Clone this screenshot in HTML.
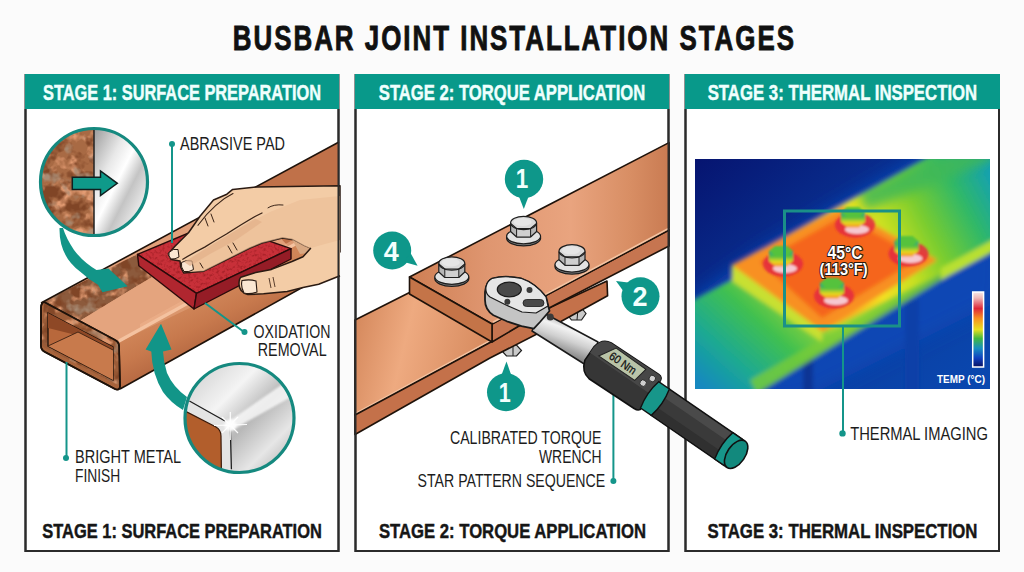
<!DOCTYPE html>
<html><head><meta charset="utf-8"><style>
html,body{margin:0;padding:0;background:#fbfbfb;}
svg{display:block;}
text{font-family:"Liberation Sans",sans-serif;}
.hd{font-weight:bold;font-size:22.3px;fill:#effffd;stroke:#effffd;stroke-width:0.45px;}
.ft{font-weight:bold;font-size:21px;fill:#161616;stroke:#161616;stroke-width:0.45px;}
.lb{font-size:17.5px;fill:#1c1c1c;}
</style></head><body>
<svg width="1024" height="572" viewBox="0 0 1024 572">
<defs>
<filter id="rust" x="0" y="0" width="100%" height="100%" color-interpolation-filters="sRGB">
 <feTurbulence type="fractalNoise" baseFrequency="0.07" numOctaves="3" seed="7" result="n"/>
 <feColorMatrix in="n" type="matrix" values="0 0 0 0 0.50  0 0 0 0 0.27  0 0 0 0 0.15  5 0 0 0 -2.4" result="dark"/>
 <feColorMatrix in="n" type="matrix" values="0 0 0 0 0.66  0 0 0 0 0.55  0 0 0 0 0.46  0 4 0 0 -2.3" result="gray"/>
 <feColorMatrix in="n" type="matrix" values="0 0 0 0 0.89  0 0 0 0 0.61  0 0 0 0 0.45  0 0 -5 0 2.45" result="light"/>
 <feMerge result="m"><feMergeNode in="SourceGraphic"/><feMergeNode in="light"/><feMergeNode in="dark"/><feMergeNode in="gray"/></feMerge>
 <feComposite in="m" in2="SourceGraphic" operator="in"/>
</filter>
<linearGradient id="silv1" x1="0" y1="0" x2="1" y2="1">
 <stop offset="0" stop-color="#9a9a9a"/><stop offset="0.3" stop-color="#e8e8e8"/><stop offset="0.45" stop-color="#ffffff"/><stop offset="0.6" stop-color="#c4c4c4"/><stop offset="0.8" stop-color="#eeeeee"/><stop offset="1" stop-color="#a8a8a8"/>
</linearGradient>
<linearGradient id="silv2" x1="0" y1="0" x2="1" y2="1">
 <stop offset="0" stop-color="#c8c8c8"/><stop offset="0.35" stop-color="#f4f4f4"/><stop offset="0.55" stop-color="#b8b8b8"/><stop offset="0.75" stop-color="#e6e6e6"/><stop offset="1" stop-color="#9c9c9c"/>
</linearGradient>
<linearGradient id="cuTop1" gradientUnits="userSpaceOnUse" x1="80" y1="330" x2="100" y2="290">
 <stop offset="0" stop-color="#e8a075"/><stop offset="1" stop-color="#c87a4c"/>
</linearGradient>
<linearGradient id="cuSide1" gradientUnits="userSpaceOnUse" x1="200" y1="300" x2="220" y2="342">
 <stop offset="0" stop-color="#d08558"/><stop offset="0.5" stop-color="#c7794d"/><stop offset="1" stop-color="#b66942"/>
</linearGradient>
<linearGradient id="cuTop2" gradientUnits="userSpaceOnUse" x1="410" y1="0" x2="669" y2="0">
 <stop offset="0" stop-color="#cf7f54"/><stop offset="0.3" stop-color="#df9670"/><stop offset="0.62" stop-color="#e9a47f"/><stop offset="0.85" stop-color="#d88e64"/><stop offset="1" stop-color="#c97b52"/>
</linearGradient>
<linearGradient id="cuTopL" gradientUnits="userSpaceOnUse" x1="355" y1="330" x2="480" y2="360">
 <stop offset="0" stop-color="#d68a5e"/><stop offset="0.4" stop-color="#eeaa80"/><stop offset="1" stop-color="#d88c60"/>
</linearGradient>
<linearGradient id="shaft" gradientUnits="userSpaceOnUse" x1="572" y1="320" x2="560" y2="352">
 <stop offset="0" stop-color="#9a9a9a"/><stop offset="0.3" stop-color="#f2f2f2"/><stop offset="0.6" stop-color="#d0d0d0"/><stop offset="1" stop-color="#8a8a8a"/>
</linearGradient>
<linearGradient id="thbg" x1="0" y1="0" x2="1" y2="1">
 <stop offset="0" stop-color="#061470"/><stop offset="0.5" stop-color="#0a3a9c"/><stop offset="1" stop-color="#0a48b0"/>
</linearGradient>
<linearGradient id="thUp" gradientUnits="userSpaceOnUse" x1="990" y1="170" x2="820" y2="260">
 <stop offset="0" stop-color="#14a0b4"/><stop offset="0.2" stop-color="#30b868"/><stop offset="0.42" stop-color="#78cc30"/><stop offset="0.62" stop-color="#c8e020"/><stop offset="0.8" stop-color="#f4e020"/><stop offset="1" stop-color="#f8b020"/>
</linearGradient>
<linearGradient id="thLow" gradientUnits="userSpaceOnUse" x1="700" y1="385" x2="790" y2="285">
 <stop offset="0" stop-color="#1288c0"/><stop offset="0.3" stop-color="#1ca894"/><stop offset="0.65" stop-color="#40c050"/><stop offset="1" stop-color="#a8d830"/>
</linearGradient>
<linearGradient id="cbar" x1="0" y1="0" x2="0" y2="1">
 <stop offset="0" stop-color="#f8e8e8"/><stop offset="0.08" stop-color="#f0b8b8"/><stop offset="0.22" stop-color="#e02838"/><stop offset="0.35" stop-color="#f89020"/><stop offset="0.5" stop-color="#e8e020"/><stop offset="0.62" stop-color="#40b840"/><stop offset="0.75" stop-color="#1890c0"/><stop offset="0.88" stop-color="#1040c0"/><stop offset="1" stop-color="#081060"/>
</linearGradient>
<filter id="blur2" x="-10%" y="-10%" width="120%" height="120%"><feGaussianBlur stdDeviation="2.2"/></filter>
<filter id="speck" x="0" y="0" width="100%" height="100%" color-interpolation-filters="sRGB">
 <feTurbulence type="fractalNoise" baseFrequency="0.35" numOctaves="2" seed="11" result="n"/>
 <feColorMatrix in="n" type="matrix" values="0 0 0 0 0.55  0 0 0 0 0.08  0 0 0 0 0.10  1.6 0 0 0 -0.75" result="d"/>
 <feMerge result="m"><feMergeNode in="SourceGraphic"/><feMergeNode in="d"/></feMerge>
 <feComposite in="m" in2="SourceGraphic" operator="in"/>
</filter>
<filter id="blur6" x="-20%" y="-20%" width="140%" height="140%"><feGaussianBlur stdDeviation="9"/></filter>
<filter id="blur13" x="-20%" y="-20%" width="140%" height="140%"><feGaussianBlur stdDeviation="1.3"/></filter>
<filter id="blur1"><feGaussianBlur stdDeviation="1"/></filter>
<clipPath id="upbar"><path d="M732,266 L930,156 L996,156 L996,244 L941,273 L822,332 Z"/></clipPath>
<filter id="blur4" x="-30%" y="-30%" width="160%" height="160%"><feGaussianBlur stdDeviation="5"/></filter>
<clipPath id="thc"><rect x="695" y="159" width="295" height="230"/></clipPath>
<g id="bolt">
 <ellipse cx="0" cy="14.6" rx="17" ry="7.8" fill="#8c8c8c" stroke="#1e1e1e" stroke-width="1.3"/>
 <ellipse cx="0" cy="12.8" rx="17" ry="7.5" fill="#e2e2e2" stroke="#1e1e1e" stroke-width="1.2"/>
 <path d="M-13,0 L-13,8 L-7,13.5 L7,13.5 L13,8 L13,0 Z" fill="#b6b6b6" stroke="#1e1e1e" stroke-width="1.2" stroke-linejoin="round"/>
 <path d="M-7,5 L7,5 L7,13.5 L-7,13.5 Z" fill="#cfcfcf" stroke="#1e1e1e" stroke-width="1"/>
 <ellipse cx="0" cy="-0.5" rx="13" ry="6.6" fill="#dadada" stroke="#1e1e1e" stroke-width="1.2"/>
 <path d="M-13,0 L-7,5 L7,5 L13,0" fill="none" stroke="#1e1e1e" stroke-width="1.1"/>
 <ellipse cx="-1" cy="-1.5" rx="9" ry="4" fill="#e6e6e6"/>
</g>
<linearGradient id="tbside" x1="0" y1="0" x2="0" y2="1">
 <stop offset="0" stop-color="#1c98a0"/><stop offset="0.35" stop-color="#58c040"/><stop offset="0.7" stop-color="#e8d820"/><stop offset="1" stop-color="#f89028"/>
</linearGradient>
<g id="tb">
 <ellipse cx="2" cy="10" rx="20" ry="12.5" fill="#e42a40" opacity="0.85"/>
 <ellipse cx="4" cy="14.5" rx="12" ry="4.5" fill="#f6c8d0"/>
 <path d="M-12,-3 L-12,7 L-6,12.5 L6,12.5 L12,7 L12,-3 Z" fill="url(#tbside)"/>
 <path d="M-12,-3 L-6,-8 L6,-8 L12,-3 L6,2 L-6,2 Z" fill="#54c23e"/>
</g>
<g id="bub"><circle r="19.5" fill="#12968a"/></g>
<clipPath id="c1"><circle cx="94" cy="182" r="53"/></clipPath>
<clipPath id="c2"><circle cx="239" cy="418" r="54"/></clipPath>
</defs>
<rect width="1024" height="572" fill="#fbfbfb"/>
<text transform="translate(232.8,50.3) scale(0.72,1)" x="0" y="0" font-size="36" font-weight="bold" fill="#111" stroke="#111" stroke-width="0.9" letter-spacing="2.76">BUSBAR JOINT INSTALLATION STAGES</text>

<!-- panels -->
<g fill="#fff" stroke="#2b2b2b" stroke-width="2">
<rect x="25.5" y="75" width="313" height="476"/>
<rect x="355.5" y="75" width="313" height="476"/>
<rect x="685.5" y="75" width="313.5" height="476"/>
</g>
<g fill="#08998a">
<rect x="25" y="74" width="314" height="35"/>
<rect x="355" y="74" width="314" height="35"/>
<rect x="685" y="74" width="315" height="35"/>
</g>
<text class="hd" x="43" y="99.5" textLength="278" lengthAdjust="spacingAndGlyphs">STAGE 1: SURFACE PREPARATION</text>
<text class="hd" x="378.8" y="99.5" textLength="266.5" lengthAdjust="spacingAndGlyphs">STAGE 2: TORQUE APPLICATION</text>
<text class="hd" x="707.7" y="99.5" textLength="269.5" lengthAdjust="spacingAndGlyphs">STAGE 3: THERMAL INSPECTION</text>

<text class="ft" x="42.3" y="538" textLength="279.5" lengthAdjust="spacingAndGlyphs">STAGE 1: SURFACE PREPARATION</text>
<text class="ft" x="379" y="538" textLength="267" lengthAdjust="spacingAndGlyphs">STAGE 2: TORQUE APPLICATION</text>
<text class="ft" x="707.5" y="538" textLength="270" lengthAdjust="spacingAndGlyphs">STAGE 3: THERMAL INSPECTION</text>

<!-- PANEL1 -->
<g id="p1">
<!-- bar side face -->
<path d="M119,342 L339,221 L339,267 L120,389 Z" fill="url(#cuSide1)"/>
<!-- bar top face -->
<path d="M41,303 L339,142 L339,221 L119,342 Z" fill="#e2a07a"/>
<path d="M240,196 L339,142 L339,221 L290,248 Z" fill="#c07149"/>

<!-- rust on top face -->
<path d="M41,303 L137.5,254 L139,266 L152,277 L78,322 Z" fill="#8c5a3c" filter="url(#rust)"/>
<path d="M78,322 L152,277 L196,305 L119,342 Z" fill="#e6a882" opacity="0.5"/>
<path d="M140,330 L300,242 L300,236 L140,324 Z" fill="#eeb28c" opacity="0.6"/>
<!-- front face -->
<path d="M44,302 Q41,303 41,308 L41,346 Q41,350 45,352 L115,389 Q120,391 120,386 L119,346 Q119,342 115,340 Z" fill="#a8643c" stroke="#1e120a" stroke-width="1.6"/>
<path d="M44,302 L115,340 L119,346 L120,386 L41,346Z" fill="#9a5c38" filter="url(#rust)" opacity="0.9"/>
<path d="M48,313 L113,347 L113,380 L48,346 Z" fill="#b8683c" stroke="#1e120a" stroke-width="1.3"/>
<path d="M48,313 L113,347 L113,352 L80,336 L48,328 Z" fill="#8e4826"/>
<path d="M48,346 L78,332 L113,350 L113,380 Z" fill="#c87a4c"/>
<path d="M48,346 L78,332 L113,350" fill="none" stroke="#3a2012" stroke-width="0.9"/>
<path d="M44,302 Q41,303 41,308 L41,346 Q41,350 45,352 L115,389 Q120,391 120,386 L119,346 Q119,342 115,340 Z" fill="none" stroke="#1e120a" stroke-width="1.8"/>
<path d="M119,341 L339,220" stroke="#f4c2a0" stroke-width="3.2" fill="none"/>
<path d="M41,303 L339,142 M120,389 L339,267" stroke="#1e120a" stroke-width="1.6" fill="none"/>

<!-- red pad -->
<path d="M137.5,254.4 L215,222 L291,248.7 L196.5,293.3 Z" fill="#c83039" filter="url(#speck)"/>
<path d="M137.5,254.4 L215,222 L291,248.7 L196.5,293.3 Z" fill="none" stroke="#2a0a0a" stroke-width="1.4" stroke-linejoin="round"/>
<path d="M137.5,254.4 L196.5,293.3 L194,309 L138.8,265.7 Z" fill="#b0262f" stroke="#2a0a0a" stroke-width="1.4" stroke-linejoin="round"/>
<path d="M196.5,293.3 L291,248.7 L291,259 L194,309 Z" fill="#951c26" stroke="#2a0a0a" stroke-width="1.4" stroke-linejoin="round"/>
<!-- hand: fingers+palm -->
<path d="M340,185.7 L257,187 L232.7,189.4 L226.9,194.2 L213.5,200 L200,216.3 L188.5,232.7 L175,246.2 L168.3,253.8 L171.2,259.6 L180,261 L180.8,267.3 L183.7,273 L203.8,271.2 L226.9,259.6 L250,248 L262,243 L282.5,237.9 L292,239.4 L304,246 L318,252 L340,252 Z" fill="#f3cca6" stroke="#2a1a12" stroke-width="1.5" stroke-linejoin="round"/>
<path d="M186,262 L213,244 L240,228 L270,212 L300,200 L340,196 L340,252 L318,252 L304,246 L292,239.4 L282.5,237.9 L262,243 L250,248 L226.9,259.6 L203.8,271.2 L190,272 Z" fill="#ebbd96" opacity="0.6"/>
<path d="M292,239.4 L304,246 L318,252 L300,254 Z" fill="#d9a882"/>
<!-- thumb -->
<path d="M240.8,277.2 L255.7,272.5 L271.5,269.4 L292,261.5 L303,256.8 L310.9,248 L325,244 L340,240 L340,275.7 L318.7,284.3 L303,287.5 L287.2,291.4 L263.6,293.8 L247.9,294.5 Q239,292 239,284 Q239,279 240.8,277.2 Z" fill="#f3cca6"/>
<path d="M310.9,248 L303,256.8 L292,261.5 L271.5,269.4 L255.7,272.5 L240.8,277.2 Q239,279 239,284 Q239,292 247.9,294.5 L263.6,293.8 L287.2,291.4 L303,287.5 L318.7,284.3 L340,275.7" fill="none" stroke="#2a1a12" stroke-width="1.5" stroke-linejoin="round"/>
<path d="M242,280.5 Q250,279 256,281 L257,292 Q250,294.5 244,293 Q240.5,287 242,280.5 Z" fill="#fbe7d2" stroke="#2a1a12" stroke-width="1.1"/>
<path d="M269,278 L271,288 M273,277 L275,287" stroke="#4a3020" stroke-width="0.9"/>
<!-- nails -->
<path d="M169,252.5 Q173,248 178,249.5 L179,257 Q175,259.5 171,259 Q168,256 169,252.5 Z" fill="#fbe7d2" stroke="#2a1a12" stroke-width="1"/>
<path d="M181.5,262.5 Q186,259.5 192,261 L193.5,269.5 Q189,272.5 184,271.5 Q180.5,267 181.5,262.5 Z" fill="#fbe7d2" stroke="#2a1a12" stroke-width="1"/>
<!-- finger lines -->
<path d="M184,262 L204.7,249 L226.5,236 L255,218.5 L262,222 L236,240 L210,254 L190,266 Z" fill="#e2b08a" opacity="0.7"/>
<path d="M182.8,259.2 Q195,252 204.7,247.1 Q216,240 226.5,234 Q242,224 255,216.5 L262,213" fill="none" stroke="#3a2418" stroke-width="1.3" stroke-linecap="round"/>
<path d="M198,225.3 Q206,214 215.6,205.6 Q224,198 233,193.6" fill="none" stroke="#3a2418" stroke-width="1.1" stroke-linecap="round"/>
<path d="M268,207.8 Q274,204 283,205 M205,218 L208,226 M211,214 L214,222 M228,246 L232,253 M233,243 L237,250 M200,263 L203,268" fill="none" stroke="#3a2418" stroke-width="1" stroke-linecap="round"/>
<!-- top inset circle -->
<g clip-path="url(#c1)">
 <rect x="40" y="128" width="54" height="110" fill="#a86a44" filter="url(#rust)"/>
 <rect x="94" y="128" width="56" height="110" fill="url(#silv1)"/>
</g>
<line x1="94" y1="129" x2="94" y2="235" stroke="#222" stroke-width="1.5"/>
<circle cx="94" cy="182" r="53.5" fill="none" stroke="#15897f" stroke-width="3.2"/>
<path d="M72.3,177.3 L100.5,177.3 L100.5,171 L117.3,183.3 L100.5,195.6 L100.5,189.5 L72.3,189.5 Z" fill="#0f9a8a" stroke="#102020" stroke-width="1.5" stroke-linejoin="miter"/>
<!-- upper teal curved arrow -->
<path d="M59.5,228 Q59,256 80,271.5 Q88,279 98,284.8 L102.4,292.3 L127.7,286.3 L108.4,268.5 L96.5,270 Q83,262 74,250 Q66,238 63,228 Z" fill="#129588"/>
<!-- lower inset circle -->
<g clip-path="url(#c2)">
 <rect x="183" y="362" width="114" height="114" fill="url(#silv2)"/>
 <path d="M225,424 L300,372 L300,392 L232,430 Z" fill="#fafafa" opacity="0.8" filter="url(#blur1)"/>
 <path d="M183,398 L189.4,401 L225,421 L230.3,427 L231.4,480 L183,480 Z" fill="#e4e4e4"/>
 <path d="M183,410 L216,427 Q221,430 221,436 L221.5,480 L183,480 Z" fill="#b25e2c" stroke="#3a1a0a" stroke-width="1.2"/>
</g>
<path d="M189.4,401 L225,421 M230.3,427.2 L231.4,469.2" stroke="#1e1e1e" stroke-width="1.3" fill="none"/>
<circle cx="239.5" cy="418" r="54.5" fill="none" stroke="#15897f" stroke-width="3.2"/>
<circle cx="230.3" cy="425" r="6" fill="#fff" opacity="0.85" filter="url(#blur1)"/>
<path d="M214,425.5 L247,424.5 M230.3,412 L230.3,440 M222,417 L238,433 M238,417 L222,433" stroke="#fff" stroke-width="1.2" opacity="0.95"/>
<!-- lower teal arrow -->
<path d="M187,397 Q173,387 167,373 Q163.5,362 163,351.5 L171.5,349.6 L161,323.7 L145.6,349.6 L151.3,351.5 Q152,374 163,392 Q171,403 183,410 Z" fill="#129588"/>
<!-- leaders -->
<g stroke="#14958a" stroke-width="2" fill="#14958a">
<line x1="172" y1="144" x2="172" y2="243"/><circle cx="172" cy="144" r="3" stroke="none"/>
<line x1="244" y1="332" x2="205" y2="303"/><circle cx="244.5" cy="332" r="3" stroke="none"/>
<line x1="66.5" y1="458" x2="66.5" y2="362"/><circle cx="66" cy="458" r="3" stroke="none"/>
</g>
</g>
<!-- PANEL2 -->
<g id="p2">
<!-- nuts under -->
<path d="M501.5,350.5 L506.5,345 L516.5,345 L521.5,350.5 L516.5,356 L506.5,356 Z" fill="#cacaca" stroke="#1e1e1e" stroke-width="1.2"/>
<path d="M513,345 L513,356" stroke="#1e1e1e" stroke-width="1"/>
<path d="M567.5,315 L572,309 L582,308.5 L586,313.5 L581.5,320 L571.5,320 Z" fill="#cacaca" stroke="#1e1e1e" stroke-width="1.2"/>
<path d="M578,309 L577,320" stroke="#1e1e1e" stroke-width="1"/>
<!-- lower bar -->
<path d="M355,320 L470,262 L560,305 L491,342 L355,415 Z" fill="url(#cuTopL)" stroke="#1e120a" stroke-width="1.6" stroke-linejoin="round"/>
<path d="M356,413.2 L491,340.2" stroke="#f3c3a2" stroke-width="1.6" fill="none"/>
<path d="M355,415 L491,342 L551,307 L607,281 L607.6,295.7 L555,324.7 L490,358 L355,434.5 Z" fill="#c4714a" stroke="#1e120a" stroke-width="1.6" stroke-linejoin="round"/>

<!-- upper bar -->
<path d="M492,324 L669,230 L669,246 L551,307 L492,342 Z" fill="#c67550" stroke="#1e120a" stroke-width="1.6" stroke-linejoin="round"/>
<path d="M409.5,277 L669,142.6 L669,230 L492,324 Z" fill="url(#cuTop2)" stroke="#1e120a" stroke-width="1.6" stroke-linejoin="round"/>
<path d="M409.5,277 L492,324 L492,342 L409.5,294 Z" fill="#c47448" stroke="#1e120a" stroke-width="1.6" stroke-linejoin="round"/>
<path d="M493,322.3 L669,228.3" stroke="#f3c3a2" stroke-width="1.6" fill="none"/>
<!-- bolts -->
<use href="#bolt" x="523.6" y="223.5"/>
<use href="#bolt" x="451.8" y="264"/>
<use href="#bolt" x="572" y="251.8"/>
<!-- wrench shaft -->
<path d="M540,311 L598,342 L589,367 L532,331 Z" fill="url(#shaft)" stroke="#1a1a1a" stroke-width="1.5" stroke-linejoin="round"/>
<!-- wrench head -->
<path d="M492,278.5 Q505,275 521.5,278.5 Q535,283 546,296.8 L549.5,311 L540,322 L533.8,328.7 L521.5,326.2 L506.8,321.3 L493.4,315.2 Q485,310 485,300 L485,292 Q486,282 492,278.5 Z" fill="#c4c4c4" stroke="#1a1a1a" stroke-width="1.8" stroke-linejoin="round"/>
<path d="M492,278.5 Q505,275 521.5,278.5 Q535,283 546,296.8 L548,306 L536,313 L522,312 L506,305 L490,297 Q485,293 486,287 Q487,281 492,278.5 Z" fill="#e6e6e6" stroke="#1a1a1a" stroke-width="1.2" stroke-linejoin="round"/>
<ellipse cx="509.3" cy="289.5" rx="12" ry="7.3" fill="#4a4a4a" stroke="#1a1a1a" stroke-width="1.2"/>
<circle cx="529.5" cy="290" r="3" fill="#3a3a3a"/>
<circle cx="507.4" cy="301.7" r="3" fill="#3a3a3a"/>
<circle cx="550.3" cy="317" r="3.5" fill="#3a3a3a"/>
<rect x="523" y="299.5" width="21" height="7" rx="3.5" fill="#4a4a4a" stroke="#1a1a1a" stroke-width="0.8"/>
<!-- handle body moved -->
</g>
<!-- bubbles -->
<g fill="#0e978a">
<circle cx="524" cy="179" r="19.2"/><path d="M518,194 L523.8,209 L529.5,194 Z"/>
<circle cx="392.2" cy="250.5" r="19"/><path d="M404,262 L417.6,265.7 L410.5,253 Z"/>
<circle cx="640.5" cy="296.2" r="19"/><path d="M628,282.5 L616,280.9 L624,292 Z"/>
<circle cx="506" cy="392.2" r="19"/><path d="M501.5,375 L506.5,361.4 L511.2,375 Z"/>
</g>
<g font-weight="bold" font-size="27" fill="#f2fffd" text-anchor="middle">
<text x="522" y="188" textLength="12.5" lengthAdjust="spacingAndGlyphs">1</text><text x="391.2" y="260.8">4</text><text x="640.1" y="306">2</text><text x="504.8" y="402.3" textLength="12" lengthAdjust="spacingAndGlyphs">1</text>
</g>
<g stroke="#14958a" stroke-width="2" fill="#14958a">
<line x1="613.4" y1="481" x2="613.4" y2="392"/><circle cx="613.4" cy="481" r="3" stroke="none"/>
</g>
<!-- PANEL3 -->
<g id="p3">
<g clip-path="url(#thc)">
<rect x="695" y="159" width="295" height="230" fill="url(#thbg)"/>
<g filter="url(#blur2)">
<path d="M690,300 L760,250 L930,150 L1000,150 L1000,300 L800,400 L690,400 Z" fill="#0b4ab8" opacity="0.85" filter="url(#blur6)"/>
<rect x="803" y="355" width="10" height="40" fill="#0a3494"/>
<rect x="905" y="300" width="14" height="95" fill="#0a3fa8"/>
<path d="M690,302 L732,280 L945,262 L945,272 L753,394 L690,394 Z" fill="url(#thLow)"/>
<path d="M750,380 L945,268 L945,278 L757,394 Z" fill="#78cc38" opacity="0.8"/>
<path d="M732,266 L930,156 L996,156 L996,244 L941,273 L822,332 Z" fill="url(#thUp)"/>
<path d="M941,268 L996,238 L996,250 L941,280 Z" fill="#b8e030"/>
<g clip-path="url(#upbar)"><path d="M990,150 L862,200" stroke="#40b858" stroke-width="22" filter="url(#blur4)" opacity="0.85"/></g>
<path d="M732,265 L822,330 L822,342 L732,281 Z" fill="#c8e030"/>
<path d="M732,265 L843,207 L937,260 L822,331 Z" fill="#f89020"/>
<path d="M760,262 L843,216 L920,258 L822,318 Z" fill="#f4601c" opacity="0.9"/>
</g>
<g filter="url(#blur13)">
<use href="#tb" x="853" y="215"/>
<use href="#tb" x="781" y="254"/>
<use href="#tb" x="906.5" y="244"/>
<use href="#tb" x="832" y="286"/>
</g>
</g>
<rect x="784.5" y="211" width="115" height="115" fill="none" stroke="#1a9088" stroke-width="3"/>
<line x1="843" y1="327" x2="843" y2="433" stroke="#14958a" stroke-width="2"/>
<circle cx="842.5" cy="433.4" r="3.2" fill="#14958a"/>
<g font-weight="bold" fill="#fff" stroke="#2a1a10" stroke-width="2.2" paint-order="stroke" text-anchor="middle">
<text x="845" y="259" font-size="17.5" textLength="35" lengthAdjust="spacingAndGlyphs">45°C</text>
<text x="843.6" y="274.5" font-size="16" textLength="48" lengthAdjust="spacingAndGlyphs">(113°F)</text>
</g>
<rect x="972.7" y="292" width="10.9" height="75" fill="url(#cbar)" stroke="#fff" stroke-width="1.5"/>
<text x="937" y="382.5" font-size="11" font-weight="bold" fill="#fff" textLength="48" lengthAdjust="spacingAndGlyphs">TEMP (°C)</text>
</g>

<g fill="none" stroke="#2b2b2b" stroke-width="2">
<path d="M25.5,109 L25.5,551 L338.5,551 L338.5,109"/>
<path d="M355.5,109 L355.5,551 L668.5,551 L668.5,109"/>
<path d="M685.5,109 L685.5,551 L999,551 L999,109"/>
</g>
<!-- grip (drawn over borders) -->
<g transform="translate(660.3,402.2) rotate(34.5)">
 <path d="M-86,-8 Q-84,-20 -74,-21 L-17,-22 Q-12,-22 -12,-16 L-12,15 Q-12,20 -18,20 L-72,21 Q-82,20 -86,8 Z" fill="#363636" stroke="#111" stroke-width="1.6" stroke-linejoin="round"/>
 <path d="M-86,-8 Q-84,-20 -74,-21 L-17,-22 Q-12,-22 -12,-16 L-12,-1 L-86,-1 Z" fill="#474747"/>
 <path d="M-77,-3.2 L-67,-19.6 L-30.5,-18.9 L-33.5,-3.5 Z" fill="#b9c4a8" stroke="#222" stroke-width="1"/>
 <text x="-68" y="-7" font-size="11.5" fill="#111" stroke="#111" stroke-width="0.3" textLength="30" lengthAdjust="spacingAndGlyphs">60 Nm</text>
 <circle cx="-25" cy="-6" r="3.2" fill="#cfcfcf" stroke="#222" stroke-width="0.8"/>
 <circle cx="-20" cy="-15" r="3.2" fill="#cfcfcf" stroke="#222" stroke-width="0.8"/>
 <rect x="0" y="-16" width="88" height="32" fill="#3a3a3a" stroke="#111" stroke-width="1.6"/>
 <rect x="0" y="-15" width="88" height="9" fill="#4a4a4a"/>
 <rect x="0" y="6" width="88" height="9" fill="#303030"/>
 <path d="M-13,-16 L0,-16 Q4,0 0,16 L-13,16 Q-17,0 -13,-16 Z" fill="#17968a" stroke="#111" stroke-width="1.4"/>
 <path d="M77,-16 L91,-16 L91,16 L77,16 Q73,0 77,-16 Z" fill="#17968a" stroke="#111" stroke-width="1.4"/>
 <ellipse cx="92" cy="0" rx="9" ry="16" fill="#12897d" stroke="#111" stroke-width="1.6"/>
</g>
<!-- labels -->
<text class="lb" x="180" y="150" textLength="105" lengthAdjust="spacingAndGlyphs">ABRASIVE PAD</text>
<text class="lb" x="253.6" y="337.6" textLength="76.8" lengthAdjust="spacingAndGlyphs">OXIDATION</text>
<text class="lb" x="257.8" y="356" textLength="68.8" lengthAdjust="spacingAndGlyphs">REMOVAL</text>
<text class="lb" x="75" y="463.4" textLength="106" lengthAdjust="spacingAndGlyphs">BRIGHT METAL</text>
<text class="lb" x="75" y="482" textLength="45.3" lengthAdjust="spacingAndGlyphs">FINISH</text>
<text class="lb" x="450" y="444.4" textLength="151.5" lengthAdjust="spacingAndGlyphs">CALIBRATED TORQUE</text>
<text class="lb" x="539" y="462.6" textLength="62.5" lengthAdjust="spacingAndGlyphs">WRENCH</text>
<text class="lb" x="417.6" y="487.3" textLength="187.6" lengthAdjust="spacingAndGlyphs">STAR PATTERN SEQUENCE</text>
<text class="lb" x="850.2" y="439.5" textLength="137.7" lengthAdjust="spacingAndGlyphs">THERMAL IMAGING</text>
</svg>
</body></html>
